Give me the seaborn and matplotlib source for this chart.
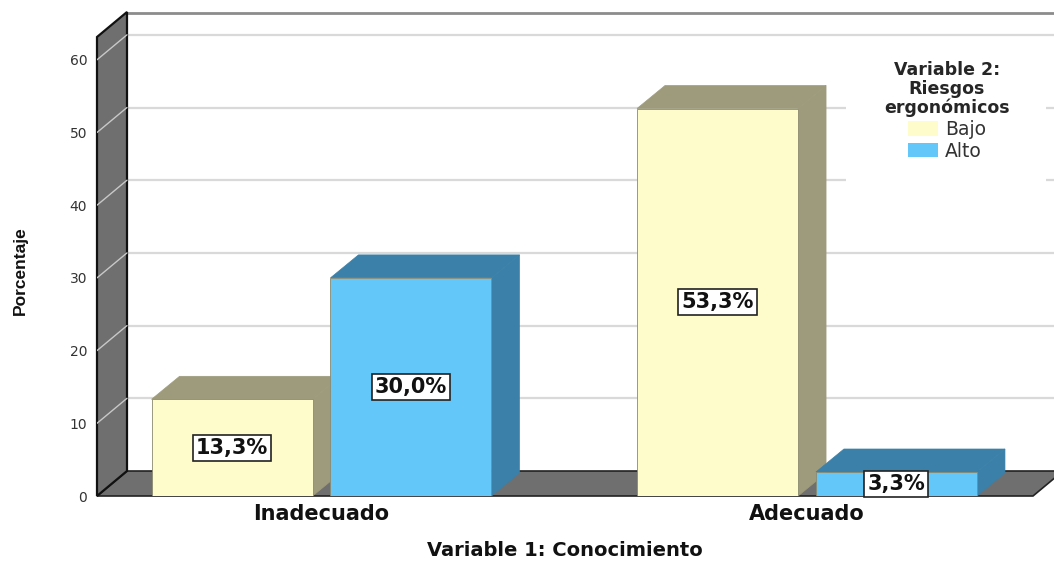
import numpy as np
import pandas as pd
import seaborn as sns
import matplotlib
matplotlib.use("Agg")
import matplotlib.pyplot as plt
from matplotlib.patches import Polygon, Patch, Rectangle

# ---- data ----
categories = ["Inadecuado", "Adecuado"]
hue_levels = ["Bajo", "Alto"]
bajo_values = [13.3, 53.3]
alto_values = [30.0, 3.3]
y_ticks = [0, 10, 20, 30, 40, 50, 60]
x_title = "Variable 1: Conocimiento"
y_title = "Porcentaje"
legend_title = "Variable 2:\nRiesgos\nergonómicos"

df = pd.DataFrame({
    "Conocimiento": categories * 2,
    "Riesgo": [hue_levels[0]] * len(categories) + [hue_levels[1]] * len(categories),
    "Porcentaje": bajo_values + alto_values,
})

# ---- style ----
sns.set_style("white")
plt.rcParams["font.family"] = ["DejaVu Sans"]

front = {"Bajo": "#FFFCCC", "Alto": "#63C7FA"}
shade = {"Bajo": "#9E9B7C", "Alto": "#3B80A8"}
wall_col = "#6F6F6F"

W, H = 1054, 565
fig = plt.figure(figsize=(W / 100, H / 100), dpi=100)
ax_left_px, ax_right_px, ax_top_px, ax_bot_px = 97, 1054, 12, 496
ax = fig.add_axes([ax_left_px / W, (H - ax_bot_px) / H,
                   (ax_right_px - ax_left_px) / W, (ax_bot_px - ax_top_px) / H])
ax.patch.set_alpha(0)

px_per_cat = 485.5
cat0_px = 321.5
px_per_unit = 7.27
x0 = (ax_left_px - cat0_px) / px_per_cat
x1 = (ax_right_px - cat0_px) / px_per_cat
ytop = (ax_bot_px - ax_top_px) / px_per_unit

# depth offsets (data units)
dxw, dyw = 30 / px_per_cat, 25 / px_per_unit
dxb, dyb = 28 / px_per_cat, 23 / px_per_unit
floor_right = (1033 - cat0_px) / px_per_cat

sns.barplot(data=df, x="Conocimiento", y="Porcentaje", hue="Riesgo",
            order=categories, hue_order=hue_levels, palette=front,
            width=0.737, gap=0.1, errorbar=None, legend=False, ax=ax,
            edgecolor="#8a8a70", linewidth=0.6, saturation=1)

ax.set_xlim(x0, x1)
ax.set_ylim(0, ytop)

# back wall gridlines
for v in y_ticks[1:]:
    ax.plot([x0 + dxw, x1 + 0.1], [v + dyw, v + dyw], color="#d9d9d9", lw=1.6,
            zorder=0.5, solid_capstyle="butt", clip_on=False)
# back wall top border
ax.plot([x0 + dxw, x1 + 0.1], [ytop - 0.1, ytop - 0.1], color="#8c8c8c", lw=2, zorder=0.6, clip_on=False)

# floor
floor = Polygon([(x0, 0), (floor_right, 0), (floor_right + dxw, dyw), (x0 + dxw, dyw)],
                closed=True, fc=wall_col, ec="#222222", lw=1.2, zorder=1, clip_on=False)
ax.add_patch(floor)
# left wall
lwall = Polygon([(x0, 0), (x0 + dxw, dyw), (x0 + dxw, ytop), (x0, ytop - dyw)],
                closed=True, fc=wall_col, ec="#111111", lw=1.6, zorder=1.1, clip_on=False)
ax.add_patch(lwall)
for v in y_ticks[1:]:
    ax.plot([x0, x0 + dxw], [v, v + dyw], color="#c8c8c8", lw=1.0, zorder=1.2)

# 3D bars built from seaborn's bar patches
for level, cont in zip(hue_levels, ax.containers):
    for bar, val in zip(cont.patches, cont.datavalues):
        x, w, h = bar.get_x(), bar.get_width(), bar.get_height()
        z = 3 + (x - x0) * 2
        bar.set_zorder(z)
        top = Polygon([(x, h), (x + w, h), (x + w + dxb, h + dyb), (x + dxb, h + dyb)],
                      closed=True, fc=shade[level], ec=shade[level], lw=0.5, zorder=z - 0.01)
        side = Polygon([(x + w, 0), (x + w + dxb, dyb), (x + w + dxb, h + dyb), (x + w, h)],
                       closed=True, fc=shade[level], ec=shade[level], lw=0.5, zorder=z - 0.01)
        ax.add_patch(top)
        ax.add_patch(side)
        txt = f"{val:.1f}".replace(".", ",") + "%"
        ax.text(x + w / 2, h / 2, txt, ha="center", va="center", fontsize=15,
                fontweight="bold", color="#111111", zorder=50,
                bbox=dict(boxstyle="square,pad=0.15", fc="white", ec="#222222", lw=1.2))

for s in ax.spines.values():
    s.set_visible(False)
ax.set_yticks(y_ticks)
ax.set_yticklabels([str(t) for t in y_ticks], fontsize=10, color="#333333")
ax.tick_params(axis="y", length=0, pad=7)
ax.tick_params(axis="x", length=0, pad=6)
ax.set_xticks(range(len(categories)))
ax.set_xticklabels(categories, fontsize=15, fontweight="bold", color="#111111")
ax.set_xlabel("")
ax.set_ylabel("")
ax.grid(False)

fig.text(565 / W, 1 - 551 / H, x_title, ha="center", va="center", fontsize=14,
         fontweight="bold", color="#111111")
fig.text(20 / W, 1 - 271 / H, y_title, ha="center", va="center", rotation=90,
         fontsize=12.5, fontweight="bold", color="#111111",
         family=["Liberation Sans", "DejaVu Sans"])

# legend area (white panel)
fig.patches.append(Rectangle((846 / W, 1 - 187 / H), 200 / W, 142 / H,
                             transform=fig.transFigure, fc="white", ec="none", zorder=4))
handles = [Patch(fc=front[l], ec="none") for l in hue_levels]
leg = fig.legend(handles, hue_levels, title=legend_title, loc="upper center",
                 bbox_to_anchor=(947 / W, 1 - 48 / H), frameon=False, fontsize=13.5,
                 title_fontproperties={"weight": "bold", "size": 12.5},
                 handlelength=1.6, handleheight=0.8, handletextpad=0.4,
                 labelspacing=0.15, borderpad=0.2)
leg.get_title().set_multialignment("center")
leg.get_title().set_linespacing(1.05)
leg.set_zorder(6)
for t in leg.get_texts():
    t.set_color("#333333")

fig.savefig("out.png", dpi=100)
